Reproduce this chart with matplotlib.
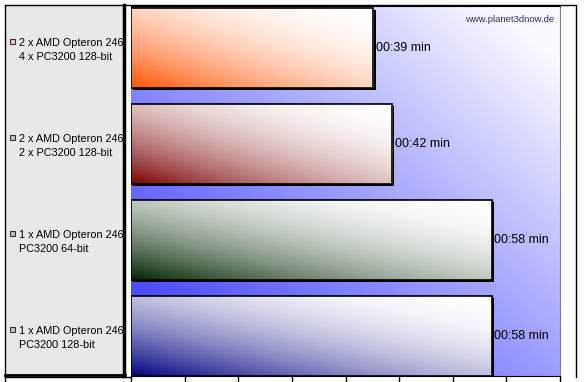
import numpy as np
import matplotlib
matplotlib.use("Agg")
import matplotlib.pyplot as plt
import matplotlib.patheffects as pe
from matplotlib.patches import Rectangle
from matplotlib.lines import Line2D

plt.rcParams['font.family'] = ['Liberation Sans', 'DejaVu Sans']

# data
labels = ["2 x AMD Opteron 246\n4 x PC3200 128-bit",
          "2 x AMD Opteron 246\n2 x PC3200 128-bit",
          "1 x AMD Opteron 246\nPC3200 64-bit",
          "1 x AMD Opteron 246\nPC3200 128-bit"]
seconds = [39, 42, 58, 58]
dark = ["#ff5200", "#7a0000", "#002400", "#000080"]
marker_fill = ["#ffc4b4", "#d8b8b8", "#b8c0b8", "#c4c4dc"]
xmax = 69

W, H = 584, 382
fig = plt.figure(figsize=(W / 100, H / 100), dpi=100)


def fx(px):
    return px / W


def fy(py):
    return 1 - py / H


ax = fig.add_axes([fx(131), fy(376), fx(560) - fx(131), fy(6) - fy(376)])

ypos = np.arange(len(seconds))
bh = 80 / 96
ylo, yhi = -42 / 96, 3 + 40 / 96

# plot background gradient
n = 200
u, v = np.meshgrid(np.linspace(0, 1, n), np.linspace(0, 1, n))
t = np.clip((u + v) / 2 * 1.08, 0, 1)
blue = np.array([0x30, 0x30, 0xff]) / 255
white = np.array([0xfa, 0xfa, 0xff]) / 255
bg = blue + t[..., None] * (white - blue)
ax.imshow(bg, extent=[0, xmax, yhi, ylo], origin='lower', aspect='auto',
          zorder=0, interpolation='bilinear')

shadow = [pe.SimplePatchShadow(offset=(1.5, -1.5), shadow_rgbFace='k', alpha=1),
          pe.Normal()]
bars = ax.barh(ypos, seconds, height=bh, color='k', edgecolor='k', lw=1,
               zorder=2, path_effects=shadow)

for bar, c in zip(bars, dark):
    x0, y0 = bar.get_x(), bar.get_y()
    w, h = bar.get_width(), bar.get_height()
    tt = (u + v) / 2
    base = np.array(matplotlib.colors.to_rgb(c))
    img = 1 - (1 - base) * ((1 - tt) ** 2)[..., None]
    im = ax.imshow(img, extent=[x0, x0 + w, y0 + h, y0], origin='lower',
                   aspect='auto', zorder=3, interpolation='bilinear')
    im.set_clip_path(bar)

ax.barh(ypos, seconds, height=bh, fill=False, edgecolor='k', lw=1.2, zorder=4)

for i, s in enumerate(seconds):
    ax.annotate(f"{s // 60:02d}:{s % 60:02d} min", (s, i), xytext=(2, 0),
                textcoords='offset points', va='center', ha='left', fontsize=9)

ax.set_xlim(0, xmax)
ax.set_ylim(yhi, ylo)
ax.set_yticks([])
ax.set_xticks(np.linspace(0, xmax, 9))
ax.set_xticklabels([])
ax.tick_params(axis='x', direction='out', length=5, width=1, color='k')
ax.spines['left'].set_visible(False)
ax.spines['right'].set_color('#808080')
ax.spines['top'].set_color('k')
ax.spines['bottom'].set_color('k')

ax.text(0.987, 0.975, "www.planet3dnow.de", transform=ax.transAxes,
        ha='right', va='top', fontsize=6.8, color='#30307a')

# legend panel
fig.patches.append(Rectangle((fx(5), fy(376)), fx(124) - fx(5), fy(5) - fy(376),
                             transform=fig.transFigure, facecolor='#e8e8e8',
                             edgecolor='none', zorder=1))
fig.lines.append(Line2D([fx(123.5), fx(123.5)], [fy(5), fy(376)],
                        transform=fig.transFigure, color='k', lw=2.5))
fig.lines.append(Line2D([fx(5), fx(124.5)], [fy(375), fy(375)],
                        transform=fig.transFigure, color='k', lw=2))

# frame
fig.lines.append(Line2D([fx(5), fx(576), fx(576)], [fy(5), fy(5), fy(377)],
                        transform=fig.transFigure, color='k', lw=1))
fig.lines.append(Line2D([fx(5), fx(5), fx(131)], [fy(5), fy(377), fy(377)],
                        transform=fig.transFigure, color='k', lw=1))
fig.lines.append(Line2D([fx(5), fx(5)], [fy(377), fy(382)],
                        transform=fig.transFigure, color='k', lw=1))

for i, (lab, mc) in enumerate(zip(labels, marker_fill)):
    cy = 48 + 96 * i + 2
    fig.text(fx(19), fy(cy), lab, ha='left', va='center', fontsize=7.8,
             linespacing=1.4)
    fig.patches.append(Rectangle((fx(10), fy(cy - 6)), fx(5), fy(0) - fy(5),
                                 transform=fig.transFigure, facecolor=mc,
                                 edgecolor='#333333', lw=0.8, zorder=3))

fig.savefig("out.png", dpi=100)
